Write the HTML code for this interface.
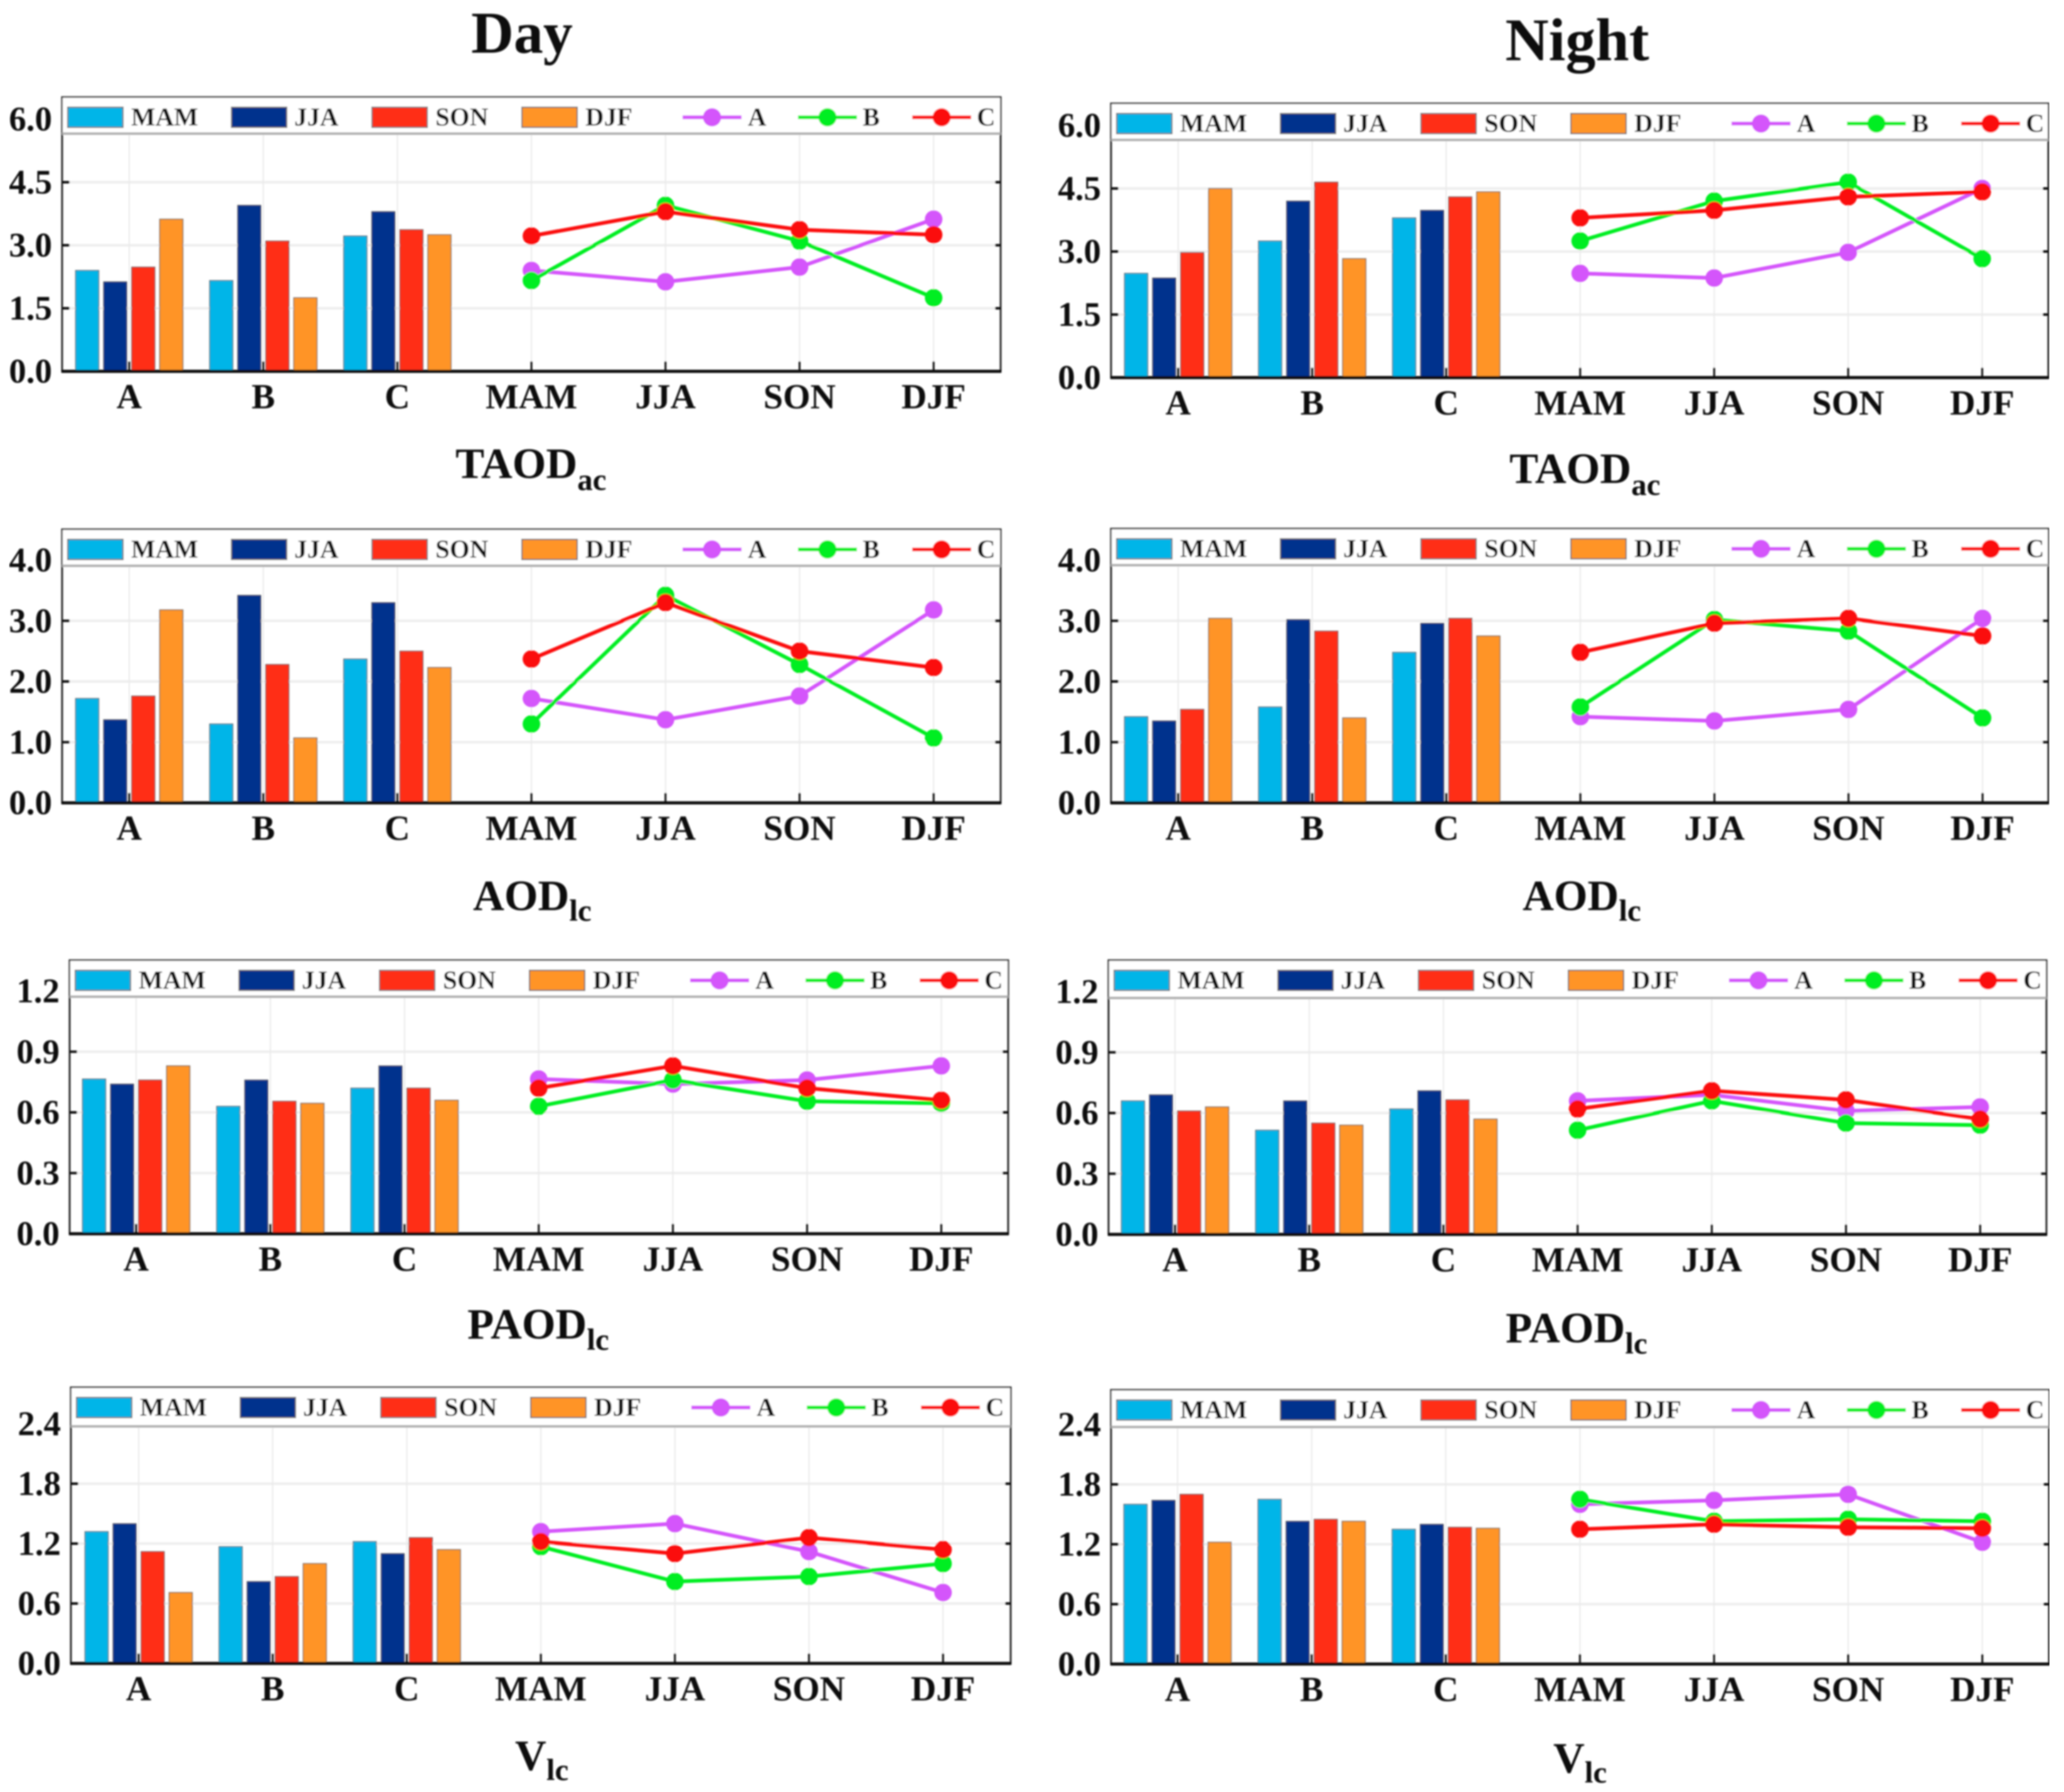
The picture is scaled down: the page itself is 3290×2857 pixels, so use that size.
<!DOCTYPE html>
<html lang="en">
<head>
<meta charset="utf-8">
<title>Seasonal aerosol optical depth, day and night</title>
<style>
html,body{margin:0;padding:0;background:#fff;width:3290px;height:2857px;overflow:hidden}
svg{display:block}
text{font-family:"Liberation Serif",serif;font-weight:bold;fill:#0c0c0c}
</style>
</head>
<body>
<svg id="chart" xmlns="http://www.w3.org/2000/svg" width="3290" height="2857" viewBox="0 0 3290 2857">
  <defs><filter id="soft" x="0" y="0" width="100%" height="100%"><feGaussianBlur stdDeviation="1.2"/></filter></defs>
  <rect x="0" y="0" width="3290" height="2857" fill="#fff"/>
  <g id="root" filter="url(#soft)">
    <text x="832" y="84" font-size="94" text-anchor="middle">Day</text>
    <text x="2514" y="96" font-size="96" text-anchor="middle">Night</text>
    <text x="726" y="762" font-size="69">TAOD<tspan font-size="49" dy="19">ac</tspan></text>
    <text x="2406" y="770" font-size="69">TAOD<tspan font-size="49" dy="19">ac</tspan></text>
    <text x="754" y="1451" font-size="69">AOD<tspan font-size="49" dy="17">lc</tspan></text>
    <text x="2427" y="1451" font-size="69">AOD<tspan font-size="49" dy="17">lc</tspan></text>
    <text x="745" y="2134" font-size="69">PAOD<tspan font-size="49" dy="18">lc</tspan></text>
    <text x="2400" y="2140" font-size="69">PAOD<tspan font-size="49" dy="18">lc</tspan></text>
    <text x="821" y="2822" font-size="69">V<tspan font-size="49" dy="16">lc</tspan></text>
    <text x="2476" y="2826" font-size="69">V<tspan font-size="49" dy="16">lc</tspan></text>
  </g>
</svg>
<script>
// Category and legend labels
const sites = ['A', 'B', 'C'];
const seasons = ['MAM', 'JJA', 'SON', 'DJF'];

// Tick labels
const ticksTaod = ['0.0', '1.5', '3.0', '4.5', '6.0'];
const ticksAod = ['0.0', '1.0', '2.0', '3.0', '4.0'];
const ticksPaod = ['0.0', '0.3', '0.6', '0.9', '1.2'];
const ticksV = ['0.0', '0.6', '1.2', '1.8', '2.4'];

// Values: one array per site, ordered MAM, JJA, SON, DJF
const dayTaodA = [2.40, 2.13, 2.48, 3.62];
const dayTaodB = [2.16, 3.95, 3.10, 1.75];
const dayTaodC = [3.22, 3.80, 3.37, 3.25];

const nightTaodA = [2.48, 2.37, 2.98, 4.50];
const nightTaodB = [3.25, 4.20, 4.65, 2.83];
const nightTaodC = [3.80, 3.98, 4.30, 4.42];

const dayAodA = [1.72, 1.37, 1.76, 3.18];
const dayAodB = [1.30, 3.42, 2.28, 1.07];
const dayAodC = [2.37, 3.30, 2.50, 2.23];

const nightAodA = [1.42, 1.35, 1.54, 3.04];
const nightAodB = [1.58, 3.02, 2.83, 1.40];
const nightAodC = [2.48, 2.96, 3.04, 2.75];

const dayPaodA = [0.765, 0.74, 0.76, 0.83];
const dayPaodB = [0.63, 0.76, 0.655, 0.645];
const dayPaodC = [0.72, 0.83, 0.72, 0.66];

const nightPaodA = [0.66, 0.69, 0.61, 0.63];
const nightPaodB = [0.515, 0.66, 0.55, 0.54];
const nightPaodC = [0.62, 0.71, 0.665, 0.57];

const dayVA = [1.32, 1.40, 1.12, 0.71];
const dayVB = [1.17, 0.82, 0.87, 1.00];
const dayVC = [1.22, 1.10, 1.26, 1.14];

const nightVA = [1.60, 1.64, 1.70, 1.22];
const nightVB = [1.65, 1.43, 1.45, 1.43];
const nightVC = [1.35, 1.40, 1.37, 1.36];

// Series colours
const barColors = ['#00b5e8', '#00338d', '#ff2e18', '#ff9428'];
const lineColors = ['#d455fb', '#00ee20', '#fb0a0a'];

// Panel layout (frame box, axis scale) and the data it shows
const layout = [
  {id:'day-taod',   left:99,   right:1595, top:155,  legendBottom:213,  base:592,  axisTop:190,  firstX:206,  stepX:213.7, ticks:ticksTaod, maxV:6,   series:[dayTaodA, dayTaodB, dayTaodC]},
  {id:'night-taod', left:1771, right:3265, top:165,  legendBottom:223,  base:602,  axisTop:200,  firstX:1878, stepX:213.6, ticks:ticksTaod, maxV:6,   series:[nightTaodA, nightTaodB, nightTaodC]},
  {id:'day-aod',    left:99,   right:1595, top:844,  legendBottom:902,  base:1280, axisTop:893,  firstX:206,  stepX:213.7, ticks:ticksAod,  maxV:4,   series:[dayAodA, dayAodB, dayAodC]},
  {id:'night-aod',  left:1771, right:3265, top:843,  legendBottom:901,  base:1280, axisTop:893,  firstX:1878, stepX:213.7, ticks:ticksAod,  maxV:4,   series:[nightAodA, nightAodB, nightAodC]},
  {id:'day-paod',   left:111,  right:1607, top:1531, legendBottom:1589, base:1967, axisTop:1580, firstX:217,  stepX:213.9, ticks:ticksPaod, maxV:1.2, series:[dayPaodA, dayPaodB, dayPaodC]},
  {id:'night-paod', left:1767, right:3262, top:1531, legendBottom:1591, base:1968, axisTop:1581, firstX:1873, stepX:213.9, ticks:ticksPaod, maxV:1.2, series:[nightPaodA, nightPaodB, nightPaodC]},
  {id:'day-v',      left:113,  right:1611, top:2212, legendBottom:2274, base:2652, axisTop:2270, firstX:221,  stepX:213.7, ticks:ticksV,    maxV:2.4, series:[dayVA, dayVB, dayVC]},
  {id:'night-v',    left:1771, right:3266, top:2216, legendBottom:2275, base:2653, axisTop:2271, firstX:1877, stepX:213.8, ticks:ticksV,    maxV:2.4, series:[nightVA, nightVB, nightVC]}
];

const NS = 'http://www.w3.org/2000/svg';
const root = document.getElementById('root');

function mk(parent, tag, attrs, label) {
  const el = document.createElementNS(NS, tag);
  for (const k in attrs) el.setAttribute(k, attrs[k]);
  if (label !== undefined) el.textContent = label;
  parent.appendChild(el);
  return el;
}

layout.forEach(function (p) {
  const g = mk(root, 'g', {});
  
  

  const yScale = function (v) { return p.base - (v / p.maxV) * (p.base - p.axisTop); };
  const xScale = function (i) { return p.firstX + i * p.stepX; };

  // Gridlines
  p.ticks.forEach(function (t, i) {
    if (i === 0 || i === p.ticks.length - 1) return;
    const y = yScale(p.maxV * i / (p.ticks.length - 1));
    const grid = mk(g, 'line', {x1: p.left, x2: p.right, y1: y, y2: y, stroke: '#eeeeee', 'stroke-width': 4});
    
    
  });
  for (let i = 0; i < sites.length + seasons.length; i++) {
    const vg = mk(g, 'line', {x1: xScale(i), x2: xScale(i), y1: p.legendBottom, y2: p.base, stroke: '#eaeaea', 'stroke-width': 2});
    
    
  }

  // Bottom ticks
  for (let i = 0; i < sites.length + seasons.length; i++) {
    const bt = mk(g, 'line', {x1: xScale(i), x2: xScale(i), y1: p.base - 16, y2: p.base, stroke: '#111', 'stroke-width': 3});
    
    
  }

  // Bars
  const barStep = 44.7, barWidth = 37;
  p.series.forEach(function (vals, s) {
    vals.forEach(function (v, k) {
      const cx = xScale(s) + (k - 1.5) * barStep;
      const bar = mk(g, 'rect', {x: cx - barWidth / 2, y: yScale(v), width: barWidth, height: p.base - yScale(v), fill: barColors[k], stroke: '#5a5a5a', 'stroke-width': 1.5, 'stroke-opacity': 0.8});
      
      
    });
  });

  // Lines and markers
  p.series.forEach(function (vals, s) {
    const pts = vals.map(function (v, k) { return xScale(k + sites.length) + ',' + yScale(v); }).join(' ');
    const line = mk(g, 'polyline', {points: pts, fill: 'none', stroke: lineColors[s], 'stroke-width': 6, 'stroke-linejoin': 'round'});
    
    
    vals.forEach(function (v, k) {
      const dot = mk(g, 'circle', {cx: xScale(k + sites.length), cy: yScale(v), r: 14, fill: lineColors[s]});
      
      
    });
  });

  // Frame
  const frame = mk(g, 'rect', {x: p.left, y: p.top, width: p.right - p.left, height: p.base - p.top, fill: 'none', stroke: '#2a2a2a', 'stroke-width': 3});
  
  
  const axis = mk(g, 'line', {x1: p.left - 1, x2: p.right + 1, y1: p.base, y2: p.base, stroke: '#111', 'stroke-width': 5});
  
  

  // Y ticks and labels
  p.ticks.forEach(function (t, i) {
    const y = yScale(p.maxV * i / (p.ticks.length - 1));
    if (i > 0 && i < p.ticks.length - 1) {
      const lt = mk(g, 'line', {x1: p.left, x2: p.left + 12, y1: y, y2: y, stroke: '#111', 'stroke-width': 4});
      
      
      const rt = mk(g, 'line', {x1: p.right - 9, x2: p.right, y1: y, y2: y, stroke: '#111', 'stroke-width': 4});
      
      
    }
    const tl = mk(g, 'text', {x: p.left - 16, y: y + 18, 'font-size': 55, 'text-anchor': 'end'}, t);
    
    
  });

  // X labels
  sites.concat(seasons).forEach(function (c, i) {
    const xl = mk(g, 'text', {x: xScale(i), y: p.base + 59, 'font-size': 56, 'text-anchor': 'middle'}, c);
    
    
  });

  // Legend
  const lg = mk(g, 'g', {});
  
  
  const lgBg = mk(lg, 'rect', {x: p.left + 1, y: p.top + 1, width: p.right - p.left - 2, height: p.legendBottom - p.top - 2, fill: '#fff'});
  
  
  const lgLine = mk(lg, 'line', {x1: p.left, x2: p.right, y1: p.legendBottom, y2: p.legendBottom, stroke: '#b0b0b0', 'stroke-width': 4});
  
  
  const my = p.top + 32;
  const swatchX = [9, 270, 494, 733];
  const swatchTextX = [110, 370, 595, 834];
  seasons.forEach(function (sn, k) {
    const sw = mk(lg, 'rect', {x: p.left + swatchX[k], y: my - 16, width: 88, height: 32, fill: barColors[k], stroke: '#666', 'stroke-width': 2});
    
    
    const st = mk(lg, 'text', {x: p.left + swatchTextX[k], y: my + 13, 'font-size': 41}, sn);
    
    
  });
  const lineX = [989, 1173, 1355];
  const lineTextX = [1093, 1276, 1458];
  sites.forEach(function (sn, s) {
    const ll = mk(lg, 'line', {x1: p.left + lineX[s], x2: p.left + lineX[s] + 94, y1: my, y2: my, stroke: lineColors[s], 'stroke-width': 6});
    
    
    const lm = mk(lg, 'circle', {cx: p.left + lineX[s] + 47, cy: my, r: 14.5, fill: lineColors[s]});
    
    
    const lt = mk(lg, 'text', {x: p.left + lineTextX[s], y: my + 13, 'font-size': 41}, sn);
    
    
  });
});
</script>
</body>
</html>
